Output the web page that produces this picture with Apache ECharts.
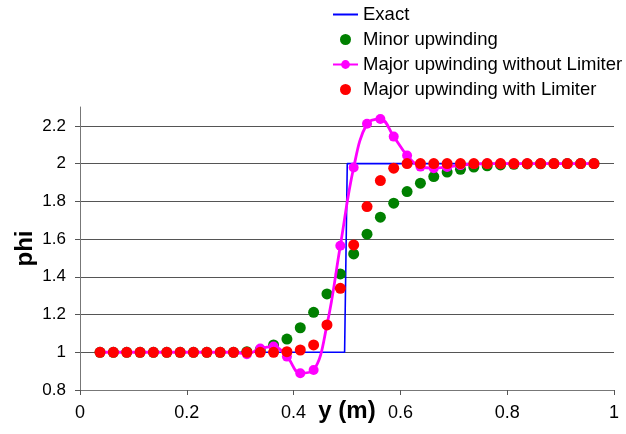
<!DOCTYPE html>
<html>
<head>
<meta charset="utf-8">
<script src="https://cdn.jsdelivr.net/npm/echarts@6/dist/echarts.min.js"></script>
<style>html,body{margin:0;padding:0;background:#fff;}#c{width:626px;height:434px;}</style>
</head>
<body>
<div id="c"></div>
<script>
const xValues = [0.0375,0.0625,0.0875,0.1125,0.1375,0.1625,0.1875,0.2125,0.2375,0.2625,
  0.2875,0.3125,0.3375,0.3625,0.3875,0.4125,0.4375,0.4625,0.4875,0.5125,
  0.5375,0.5625,0.5875,0.6125,0.6375,0.6625,0.6875,0.7125,0.7375,0.7625,
  0.7875,0.8125,0.8375,0.8625,0.8875,0.9125,0.9375,0.9625];
const exactX = [0.0375, 0.4955, 0.5005, 0.9625];
const exactY = [1, 1, 2, 2];
const minorUpwinding = [1,1,1,1,1,1,1,1,1,1,
  1,1.003,1.012,1.039,1.070,1.130,1.212,1.309,1.415,1.521,
  1.626,1.716,1.790,1.852,1.896,1.931,1.955,1.970,1.982,1.988,
  1.993,1.996,1.998,1.999,2,2,2,2];
const majorNoLimiter = [1,1,1,1,1,1,1,1,1,1,
  1,0.99,1.02,1.03,0.977,0.889,0.906,1.145,1.565,1.979,
  2.211,2.236,2.143,2.043,1.984,1.976,1.982,1.992,1.998,2,
  2,2,2,2,2,2,2,2];
const majorLimiter = [1,1,1,1,1,1,1,1,1,1,
  1,1,1,1,1.003,1.012,1.039,1.145,1.339,1.569,
  1.772,1.910,1.976,2,2,2,2,2,2,2,
  2,2,2,2,2,2,2,2];
const seriesNames = ['Exact','Minor upwinding','Major upwinding without Limiter','Major upwinding with Limiter'];

const pair = (xs, ys) => xs.map((x, i) => [x, ys[i]]);
const FONT = 'Liberation Sans';
const chart = echarts.init(document.getElementById('c'), null, {renderer: 'canvas'});
chart.setOption({
  animation: false,
  backgroundColor: '#fff',
  textStyle: {fontFamily: FONT},
  grid: {left: 80, right: 12, top: 107, bottom: 44, containLabel: false, outerBoundsMode: 'none'},
  legend: {
    orient: 'vertical', left: 332, top: 5, padding: 0,
    itemWidth: 25, itemHeight: 11, itemGap: 6,
    textStyle: {fontFamily: FONT, fontSize: 18.5, color: '#000'},
    data: [
      {name: seriesNames[0], itemStyle: {opacity: 0, color: 'transparent', borderWidth: 0}},
      seriesNames[1], seriesNames[2], seriesNames[3]
    ]
  },
  xAxis: {
    type: 'value', min: 0, max: 1, interval: 0.2,
    name: 'y (m)', nameLocation: 'middle', nameGap: 9, nameMoveOverlap: false,
    nameTextStyle: {fontFamily: FONT, fontSize: 24, fontWeight: 'bold', color: '#000'},
    axisLine: {show: true, lineStyle: {color: '#777', width: 1}},
    axisTick: {show: true, length: 5, lineStyle: {color: '#555'}},
    axisLabel: {fontFamily: FONT, fontSize: 18, color: '#000', margin: 14},
    splitLine: {show: false}
  },
  yAxis: {
    type: 'value', min: 0.8, max: 2.3, interval: 0.2,
    name: 'phi', nameLocation: 'middle', nameGap: 43, nameMoveOverlap: false,
    nameTextStyle: {fontFamily: FONT, fontSize: 24, fontWeight: 'bold', color: '#000'},
    axisLine: {show: true, lineStyle: {color: '#777', width: 1}},
    axisTick: {show: true, length: 5, lineStyle: {color: '#555'}},
    axisLabel: {fontFamily: FONT, fontSize: 17, color: '#000', margin: 14, showMaxLabel: false},
    splitLine: {show: true, showMinLine: false, showMaxLine: false, lineStyle: {color: '#555', width: 1}}
  },
  series: [
    {name: seriesNames[0], type: 'line', data: pair(exactX, exactY), symbol: 'none', showSymbol: false,
     lineStyle: {color: '#0000FF', width: 1.6}, itemStyle: {color: '#0000FF'}, z: 2},
    {name: seriesNames[1], type: 'scatter', data: pair(xValues, minorUpwinding), symbol: 'circle', symbolSize: 11,
     itemStyle: {color: '#008000', opacity: 1}, z: 3},
    {name: seriesNames[2], type: 'line', data: pair(xValues, majorNoLimiter), smooth: 0.4, symbol: 'circle', symbolSize: 10, showSymbol: true,
     lineStyle: {color: '#FF00FF', width: 2.8}, itemStyle: {color: '#FF00FF', opacity: 1}, z: 4},
    {name: seriesNames[3], type: 'scatter', data: pair(xValues, majorLimiter), symbol: 'circle', symbolSize: 11,
     itemStyle: {color: '#FF0000', opacity: 1}, z: 5}
  ]
});
</script>
</body>
</html>
